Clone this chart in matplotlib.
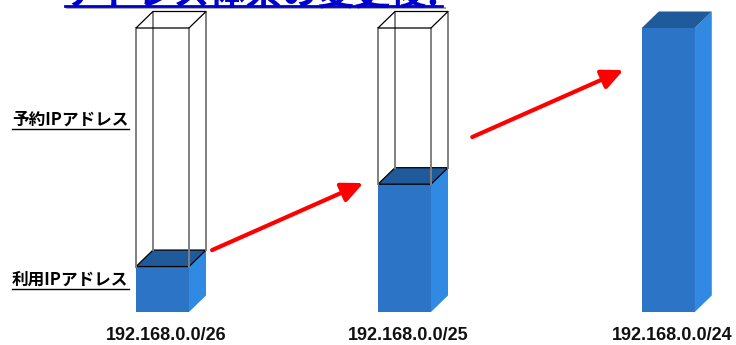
import matplotlib
matplotlib.use('Agg')
import matplotlib.pyplot as plt
from matplotlib.patches import Polygon, FancyArrowPatch
from matplotlib.lines import Line2D

# ---- data ----
categories = ['192.168.0.0/26', '192.168.0.0/25', '192.168.0.0/24']
x_pos = [0.0, 1.0, 2.09]
reserved = [100, 100, 100]
used = [16, 45, 100]
legend_labels = ['予約IPアドレス', '利用IPアドレス']
title = 'アドレス体系の変更後!'
arrows = [((0.205, 21.8), (0.83, 45.4)), ((1.28, 61.6), (1.905, 85.2))]

JP = ['Noto Sans CJK JP', 'DejaVu Sans']
W, H = 736, 345
fig = plt.figure(figsize=(W / 100, H / 100), dpi=100)

unit_px = 242.0
x0_px = 162.5
bottom_px, top_px = 312, 28
ax = fig.add_axes([0, (H - bottom_px) / H, 1, (bottom_px - top_px) / H])
ax.set_xlim(-x0_px / unit_px, (W - x0_px) / unit_px)
ax.set_ylim(0, 100)
ax.axis('off')

w = 53 / unit_px
dx = 17 / unit_px
dy = 16.5 / (bottom_px - top_px) * 100

c_front = '#2B74C6'
c_side = '#3089E2'
c_top = '#1F5A9B'
c_grey = '#808080'

for x, cap, v in zip(x_pos, reserved, used):
    l, r = x - w / 2, x + w / 2
    has_frame = cap > v
    ax.add_patch(Polygon([(l, 0), (r, 0), (r, v), (l, v)], closed=True,
                         facecolor=c_front, edgecolor='none', clip_on=False))
    ax.add_patch(Polygon([(r, 0), (r + dx, dy), (r + dx, v + dy), (r, v)], closed=True,
                         facecolor=c_side, edgecolor='none', clip_on=False))
    ax.add_patch(Polygon([(l, v), (r, v), (r + dx, v + dy), (l + dx, v + dy)], closed=True,
                         facecolor=c_top,
                         edgecolor='black' if has_frame else 'none',
                         linewidth=0.9, clip_on=False))
    if has_frame:
        for xx, off in [(l, 0), (r, 0), (l + dx, dy), (r + dx, dy)]:
            ax.add_line(Line2D([xx, xx], [v + off, cap + off], color=c_grey,
                               lw=1.4, clip_on=False, zorder=3))
        ax.add_patch(Polygon([(l, cap), (r, cap), (r + dx, cap + dy), (l + dx, cap + dy)],
                             closed=True, facecolor='none', edgecolor='black',
                             linewidth=0.9, clip_on=False, zorder=4))

for x, lab in zip(x_pos, categories):
    ax.text(x + 0.015, (bottom_px - 335) / (bottom_px - top_px), lab,
            transform=ax.get_xaxis_transform(), ha='center', va='center',
            fontsize=13, fontweight='bold', family='Liberation Sans', color='#111111')

for (s, e) in arrows:
    ax.add_patch(FancyArrowPatch(s, e, arrowstyle='-|>,head_length=13,head_width=6',
                                 mutation_scale=1, color='#FF0000', lw=3,
                                 shrinkA=0, shrinkB=0, clip_on=False, zorder=5))

# side labels
for lab, yc, yu in zip(legend_labels, [120, 280], [129, 289]):
    fig.text(12 / W, (H - yc) / H, lab, ha='left', va='center', fontsize=12,
             fontweight='bold', family=JP, color='black')
    fig.add_artist(Line2D([12 / W, 129 / W], [(H - yu) / H] * 2, color='black',
                          lw=1.0, transform=fig.transFigure))

# title (mostly cut off at top, as in the reference)
fig.text(66 / W, 1 - 4.5 / H, title, ha='left', va='baseline', fontsize=26,
         fontweight='bold', family=JP, color='#0000CC')
fig.add_artist(Line2D([67 / W, 445 / W], [1 - 8.4 / H] * 2, color='#AAAAAA',
                      lw=1.5, transform=fig.transFigure))
fig.add_artist(Line2D([65 / W, 442 / W], [1 - 6.2 / H] * 2, color='#0000CC',
                      lw=2.0, transform=fig.transFigure))

fig.savefig('out.png', dpi=100)
